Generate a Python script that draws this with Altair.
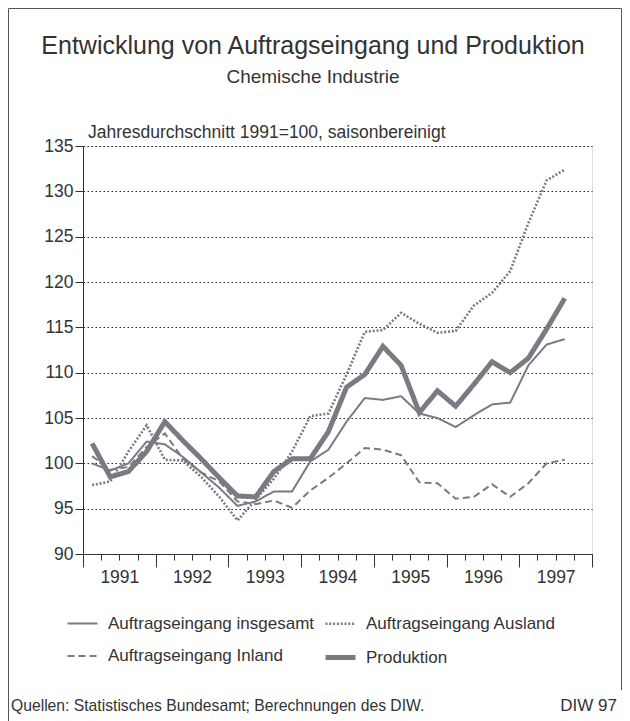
import altair as alt
import pandas as pd

# ---------------- data (quarterly, 1991 Q1 .. 1997 Q3) ----------------
YEARS = ["1991", "1992", "1993", "1994", "1995", "1996", "1997"]
# legend order (filled column by column): insgesamt / Inland | Ausland / Produktion
SERIES = ["Auftragseingang insgesamt", "Auftragseingang Inland",
          "Auftragseingang Ausland", "Produktion"]

PRODUKTION = [102.2, 98.5, 99.1, 101.3, 104.6, 102.5, 100.5, 98.4, 96.4, 96.3,
              99.1, 100.5, 100.5, 103.5, 108.4, 109.8, 112.9, 110.8, 105.6, 108.0,
              106.3, 108.7, 111.2, 110.0, 111.6, 114.8, 118.2]
INSGESAMT = [100.0, 99.2, 100.0, 102.4, 102.1, 100.7, 99.0, 97.3, 95.3, 95.8,
             96.9, 96.9, 100.2, 101.5, 104.6, 107.2, 107.0, 107.4, 105.5, 105.0,
             104.0, 105.3, 106.5, 106.7, 110.8, 113.1, 113.7]
AUSLAND = [97.6, 98.0, 101.3, 104.2, 100.4, 100.3, 98.5, 96.3, 93.7, 96.0,
           98.3, 101.3, 105.2, 105.5, 109.8, 114.5, 114.7, 116.6, 115.4, 114.4,
           114.6, 117.4, 118.8, 121.2, 126.5, 131.2, 132.4]
INLAND = [100.8, 99.3, 99.6, 101.8, 103.3, 100.5, 99.0, 98.0, 95.8, 95.5,
          95.9, 95.1, 97.0, 98.4, 100.0, 101.7, 101.5, 100.9, 97.9, 97.8,
          96.1, 96.3, 97.7, 96.3, 97.8, 100.0, 100.4]

rows = []
for name, vals in [("Produktion", PRODUKTION),
                   ("Auftragseingang Inland", INLAND),
                   ("Auftragseingang Ausland", AUSLAND),
                   ("Auftragseingang insgesamt", INSGESAMT)]:
    for i, v in enumerate(vals):
        rows.append({"Reihe": name, "q": i + 0.5, "Wert": v, "idx": i})
df = pd.DataFrame(rows)

FONT = "Liberation Sans"
GREY = "#7e7883"
TXT = "#333333"

label_expr = ("datum.value % 4 == 2 ? " + str(YEARS) +
              "[floor(datum.value / 4)] : ''")

leg = alt.Legend(
    title=None, orient="none", legendX=-18, legendY=461, columns=2,
    symbolType="stroke", symbolSize=900, labelFont=FONT, labelFontSize=17,
    labelColor=TXT, labelOffset=8, columnPadding=0, rowPadding=8,
    labelLimit=400,
)

lines = alt.Chart(df).mark_line(strokeJoin="miter").encode(
    x=alt.X("q:Q",
            scale=alt.Scale(domain=[0, 28], nice=False, zero=False),
            axis=alt.Axis(values=list(range(29)), labelExpr=label_expr,
                          title=None, grid=False,
                          tickSize={"condition": {"test": "datum.value % 4 === 0",
                                                  "value": 13}, "value": 6},
                          tickColor=TXT, domainColor=TXT, labelPadding=8,
                          labelFont=FONT, labelFontSize=17.5, labelColor=TXT,
                          labelBaseline="top", labelFlush=False,
                          labelOverlap=False)),
    y=alt.Y("Wert:Q",
            scale=alt.Scale(domain=[90, 135], nice=False, zero=False),
            axis=alt.Axis(values=list(range(90, 136, 5)), title=None,
                          grid=True, gridDash=[1.5, 2.5], gridColor="#222",
                          gridWidth=1.2, tickSize=8, tickColor=TXT,
                          domainColor=TXT, labelPadding=2, labelFont=FONT,
                          labelFontSize=17.5, labelColor=TXT)),
    color=alt.Color("Reihe:N", scale=alt.Scale(domain=SERIES, range=[GREY] * 4),
                    legend=leg),
    strokeDash=alt.StrokeDash("Reihe:N",
                              scale=alt.Scale(domain=SERIES,
                                              range=[[1, 0], [7, 4], [2, 1.8], [1, 0]]),
                              legend=leg),
    strokeWidth=alt.StrokeWidth("Reihe:N",
                                scale=alt.Scale(type="ordinal", domain=SERIES,
                                                range=[2, 2, 2.6, 5]),
                                legend=leg),
    order="idx:Q",
)


def txt(s, x, y, size, align="left"):
    return alt.Chart(pd.DataFrame({"t": [s]})).mark_text(
        align=align, baseline="alphabetic", font=FONT, fontSize=size, color=TXT
    ).encode(text="t:N", x=alt.value(x), y=alt.value(y))


one = pd.DataFrame({"a": [0]})
frame_left = alt.Chart(one).mark_rule(color="#555", strokeWidth=1).encode(
    x=alt.value(-74.5), y=alt.value(-137.5), y2=alt.value(575))
frame_top = alt.Chart(one).mark_rule(color="#555", strokeWidth=1).encode(
    x=alt.value(-74.5), x2=alt.value(538.5), y=alt.value(-137.5))
frame_right = alt.Chart(one).mark_rule(color="#555", strokeWidth=1).encode(
    x=alt.value(538.5), y=alt.value(-137.5), y2=alt.value(544))

chart = alt.layer(
    frame_left, frame_top, frame_right,
    lines,
    txt("Entwicklung von Auftragseingang und Produktion", 230, -92, 25, "center"),
    txt("Chemische Industrie", 230, -63, 19, "center"),
    txt("Jahresdurchschnitt 1991=100, saisonbereinigt", 5, -8, 17.5),
    txt("Quellen: Statistisches Bundesamt; Berechnungen des DIW.", -72, 565, 15.7),
    txt("DIW 97", 534, 565, 17, "right"),
).properties(
    width=509, height=408,
    autosize=alt.AutoSizeParams(type="none"),
    padding={"left": 75, "top": 138, "right": 30, "bottom": 167},
).configure_view(stroke="#333", strokeWidth=1.5).configure(background="white")

chart.save("out.html", embed_options={"renderer": "svg", "actions": False})
